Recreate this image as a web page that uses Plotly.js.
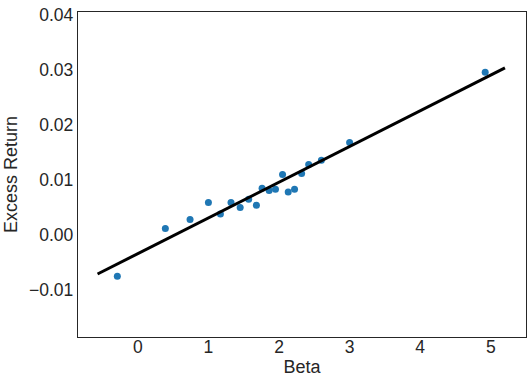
<!DOCTYPE html>
<html>
<head>
<meta charset="utf-8">
<script src="https://cdn.plot.ly/plotly-3.0.1.min.js"></script>
<style>html,body{margin:0;padding:0;background:#fff;}#chart{width:531px;height:388px;}</style>
</head>
<body>
<div id="chart"></div>
<script>
// Scatter data: beta vs excess return
const beta = [-0.29, 0.39, 0.74, 1.00, 1.17, 1.32, 1.45, 1.57, 1.68, 1.76, 1.86, 1.95, 2.05, 2.13, 2.22, 2.32, 2.42, 2.60, 3.00, 4.92];
const excessReturn = [-0.0075, 0.0012, 0.0028, 0.0059, 0.0038, 0.0059, 0.0050, 0.0065, 0.0054, 0.0085, 0.0081, 0.0083, 0.0110, 0.0078, 0.0083, 0.0112, 0.0128, 0.0136, 0.0168, 0.0296];
// Fitted line endpoints
const fitX = [-0.57, 5.20];
const fitY = [-0.0071, 0.0304];
const xTicks = [0, 1, 2, 3, 4, 5];
const yTicks = [-0.01, 0.00, 0.01, 0.02, 0.03, 0.04];
const yTickText = ['\u22120.01', '0.00', '0.01', '0.02', '0.03', '0.04'];

const font = {family: 'Liberation Sans, Arial, sans-serif', color: '#262626'};

const data = [
  {x: beta, y: excessReturn, type: 'scatter', mode: 'markers',
   marker: {color: '#1f77b4', size: 7}, showlegend: false, hoverinfo: 'skip'},
  {x: fitX, y: fitY, type: 'scatter', mode: 'lines',
   line: {color: '#000000', width: 3}, showlegend: false, hoverinfo: 'skip'}
];

const layout = {
  width: 531, height: 388,
  margin: {l: 78, r: 5, t: 12, b: 51, pad: 0},
  paper_bgcolor: '#ffffff', plot_bgcolor: '#ffffff',
  font: Object.assign({size: 17.5}, font),
  xaxis: {
    range: [-0.847, 5.498], tickvals: xTicks, ticktext: xTicks.map(String),
    showgrid: false, zeroline: false, showline: true, mirror: true,
    linecolor: '#262626', linewidth: 1.25, ticks: '', ticklabelstandoff: -6,
    tickfont: Object.assign({size: 17.5}, font),
    title: {text: 'Beta', font: Object.assign({size: 18}, font), standoff: 4}
  },
  yaxis: {
    range: [-0.01855, 0.04055], tickvals: yTicks, ticktext: yTickText,
    showgrid: false, zeroline: false, showline: true, mirror: true,
    linecolor: '#262626', linewidth: 1.25, ticks: '',
    tickfont: Object.assign({size: 17.5}, font),
    title: {text: 'Excess Return', font: Object.assign({size: 18}, font), standoff: 6}
  }
};

Plotly.newPlot('chart', data, layout, {displayModeBar: false, staticPlot: true});
</script>
</body>
</html>
